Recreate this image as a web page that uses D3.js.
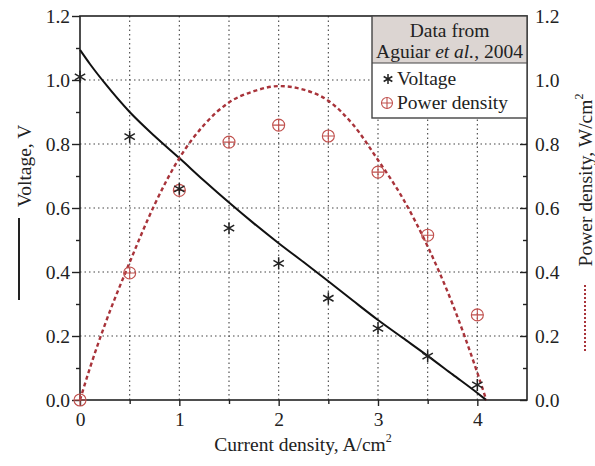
<!DOCTYPE html>
<html>
<head>
<meta charset="utf-8">
<script src="https://cdn.jsdelivr.net/npm/d3@7"></script>
<style>
  html, body { margin: 0; padding: 0; background: #fff; }
  svg { display: block; }
  text { font-family: "Liberation Serif", "Times New Roman", serif; fill: #222; }
</style>
</head>
<body>
<svg id="chart" width="595" height="466"></svg>
<script>
// ---- data ----
const xTickValues = [0, 1, 2, 3, 4];
const yTickValues = [0, 0.2, 0.4, 0.6, 0.8, 1.0, 1.2];
// model curves
const modelCurrent = [0, 0.1, 0.25, 0.5, 0.75, 1, 1.25, 1.5, 1.75, 2, 2.25, 2.5, 2.75, 3, 3.25, 3.5, 3.75, 4, 4.09];
const modelVoltage = [1.094, 1.05, 0.99, 0.90, 0.825, 0.756, 0.685, 0.617, 0.552, 0.49, 0.431, 0.371, 0.31, 0.25, 0.194, 0.138, 0.08, 0.022, 0];
const modelPower   = [0, 0.10, 0.235, 0.43, 0.61, 0.756, 0.86, 0.93, 0.965, 0.981, 0.97, 0.935, 0.86, 0.75, 0.63, 0.48, 0.30, 0.085, 0];
// experimental data (Aguiar et al., 2004)
const dataCurrent = [0, 0.5, 1, 1.5, 2, 2.5, 3, 3.5, 4];
const dataVoltage = [1.01, 0.823, 0.66, 0.537, 0.427, 0.318, 0.224, 0.137, 0.047];
const dataPower   = [0.0, 0.397, 0.655, 0.806, 0.859, 0.825, 0.712, 0.515, 0.266];

// ---- layout ----
const svg = d3.select("#chart");
const L = 80, R = 527, T = 16, B = 400;
const FS = "19.5px";
const x = d3.scaleLinear().domain([0, 4.5]).range([L, R]);
const y = d3.scaleLinear().domain([0, 1.2]).range([B, T]);
const y2 = d3.scaleLinear().domain([0, 1.2]).range([B, T]);

const redLine = "#a8333a";
const redMark = "#c0504d";

// grid
const g = svg.append("g");
g.selectAll("line.vg").data(d3.range(1, 9).map(i => i * 0.5)).join("line")
  .attr("x1", d => x(d)).attr("x2", d => x(d)).attr("y1", T).attr("y2", B)
  .attr("stroke", "#444").attr("stroke-width", 1.1).attr("stroke-dasharray", "1.5,3");
g.selectAll("line.hg").data([0.2, 0.4, 0.6, 0.8, 1.0]).join("line")
  .attr("x1", L).attr("x2", R).attr("y1", d => y(d)).attr("y2", d => y(d))
  .attr("stroke", "#444").attr("stroke-width", 1.1).attr("stroke-dasharray", "1.5,3");

// axes
const fmt = d3.format(".1f");
const left = svg.append("g").attr("transform", `translate(${L},0)`)
  .call(d3.axisLeft(y).tickValues(yTickValues).tickFormat(fmt).tickSize(8).tickPadding(3));
const leftMinor = svg.append("g").attr("transform", `translate(${L},0)`)
  .call(d3.axisLeft(y).tickValues(d3.range(0, 6).map(i => 0.1 + i * 0.2)).tickFormat("").tickSize(4));
const right = svg.append("g").attr("transform", `translate(${R},0)`)
  .call(d3.axisRight(y2).tickValues(yTickValues).tickFormat(fmt).tickSize(-7).tickPadding(15));
const rightMinor = svg.append("g").attr("transform", `translate(${R},0)`)
  .call(d3.axisRight(y2).tickValues(d3.range(0, 6).map(i => 0.1 + i * 0.2)).tickFormat("").tickSize(-4));
const bottom = svg.append("g").attr("transform", `translate(0,${B})`)
  .call(d3.axisBottom(x).tickValues(xTickValues).tickFormat(d3.format("d")).tickSize(6).tickPadding(6));
const bottomMinor = svg.append("g").attr("transform", `translate(0,${B})`)
  .call(d3.axisBottom(x).tickValues([0.5, 1.5, 2.5, 3.5]).tickFormat("").tickSize(4));

[left, leftMinor, right, rightMinor, bottom, bottomMinor].forEach(a => {
  a.select(".domain").remove();
  a.selectAll(".tick line").attr("stroke", "#222").attr("stroke-width", 1.4);
  a.selectAll(".tick text").style("font-family", "Liberation Serif, serif")
    .style("font-size", FS).attr("fill", "#333");
});
right.selectAll(".tick text").attr("x", 8);
left.selectAll(".tick text").attr("x", -10);

// frame
svg.append("rect").attr("x", L).attr("y", T).attr("width", R - L).attr("height", B - T)
  .attr("fill", "none").attr("stroke", "#222").attr("stroke-width", 1.6);

// model lines
const lineV = d3.line().x((d, i) => x(modelCurrent[i])).y(d => y(d)).curve(d3.curveMonotoneX);
const lineP = d3.line().x((d, i) => x(modelCurrent[i])).y(d => y2(d)).curve(d3.curveMonotoneX);
svg.append("path").attr("d", lineV(modelVoltage)).attr("fill", "none")
  .attr("stroke", "#111").attr("stroke-width", 2);
svg.append("path").attr("d", lineP(modelPower)).attr("fill", "none")
  .attr("stroke", redLine).attr("stroke-width", 2.4).attr("stroke-dasharray", "4,3");

// markers
function starPath(cx, cy, r) {
  let p = `M${cx},${cy - r}L${cx},${cy + r}`;
  [30, 150].forEach(a => {
    const rad = a * Math.PI / 180;
    p += `M${cx - r * Math.cos(rad)},${cy - r * Math.sin(rad)}L${cx + r * Math.cos(rad)},${cy + r * Math.sin(rad)}`;
  });
  return p;
}
function circlePlus(sel, cx, cy, r) {
  sel.append("circle").attr("cx", cx).attr("cy", cy).attr("r", r)
    .attr("fill", "none").attr("stroke", redMark).attr("stroke-width", 1.1);
  sel.append("path").attr("d", `M${cx - r},${cy}L${cx + r},${cy}M${cx},${cy - r}L${cx},${cy + r}`)
    .attr("stroke", redMark).attr("stroke-width", 1.1);
}
const pg = svg.append("g");
dataPower.forEach((d, i) => circlePlus(pg, x(dataCurrent[i]), y2(d), 6));
const sg = svg.append("g");
dataVoltage.forEach((d, i) => {
  sg.append("path").attr("d", starPath(x(dataCurrent[i]), y(d), 6))
    .attr("stroke", "#222").attr("stroke-width", 1.5);
});

// legend
const lg = svg.append("g");
const lx0 = 372, lx1 = R, ly0 = T, lyMid = 63, ly1 = 118;
lg.append("rect").attr("x", lx0).attr("y", ly0).attr("width", lx1 - lx0).attr("height", lyMid - ly0)
  .attr("fill", "#dcd5d2");
lg.append("rect").attr("x", lx0).attr("y", lyMid).attr("width", lx1 - lx0).attr("height", ly1 - lyMid)
  .attr("fill", "#fff");
lg.append("rect").attr("x", lx0).attr("y", ly0).attr("width", lx1 - lx0).attr("height", ly1 - ly0)
  .attr("fill", "none").attr("stroke", "#444").attr("stroke-width", 1.4);
lg.append("line").attr("x1", lx0).attr("x2", lx1).attr("y1", lyMid).attr("y2", lyMid)
  .attr("stroke", "#444").attr("stroke-width", 1.2);
const cx = (lx0 + lx1) / 2;
lg.append("text").attr("x", cx).attr("y", 37).attr("text-anchor", "middle")
  .style("font-size", FS).text("Data from");
const t2 = lg.append("text").attr("x", cx).attr("y", 58).attr("text-anchor", "middle").style("font-size", FS);
t2.append("tspan").text("Aguiar ");
t2.append("tspan").style("font-style", "italic").text("et al.");
t2.append("tspan").text(", 2004");
lg.append("path").attr("d", starPath(388, 79, 5)).attr("stroke", "#222").attr("stroke-width", 1.5);
lg.append("text").attr("x", 397).attr("y", 85).style("font-size", FS).text("Voltage");
circlePlus(lg, 387, 103, 5.5);
lg.append("text").attr("x", 397).attr("y", 109).style("font-size", FS).text("Power density");

// axis titles
const xl = svg.append("text").attr("x", 303).attr("y", 451).attr("text-anchor", "middle").style("font-size", FS);
xl.append("tspan").text("Current density, A/cm");
xl.append("tspan").attr("dy", -9).style("font-size", "12px").text("2");

svg.append("text").attr("transform", "translate(31,166) rotate(-90)").attr("text-anchor", "middle")
  .style("font-size", FS).text("Voltage, V");
svg.append("line").attr("x1", 19).attr("x2", 19).attr("y1", 218).attr("y2", 300)
  .attr("stroke", "#222").attr("stroke-width", 2);

const rl = svg.append("text").attr("transform", "translate(592,180) rotate(-90)").attr("text-anchor", "middle")
  .style("font-size", FS);
rl.append("tspan").text("Power density, W/cm");
rl.append("tspan").attr("dy", -9).style("font-size", "12px").text("2");
svg.append("line").attr("x1", 585).attr("x2", 585).attr("y1", 285).attr("y2", 352)
  .attr("stroke", redLine).attr("stroke-width", 2).attr("stroke-dasharray", "2,2");
</script>
</body>
</html>
